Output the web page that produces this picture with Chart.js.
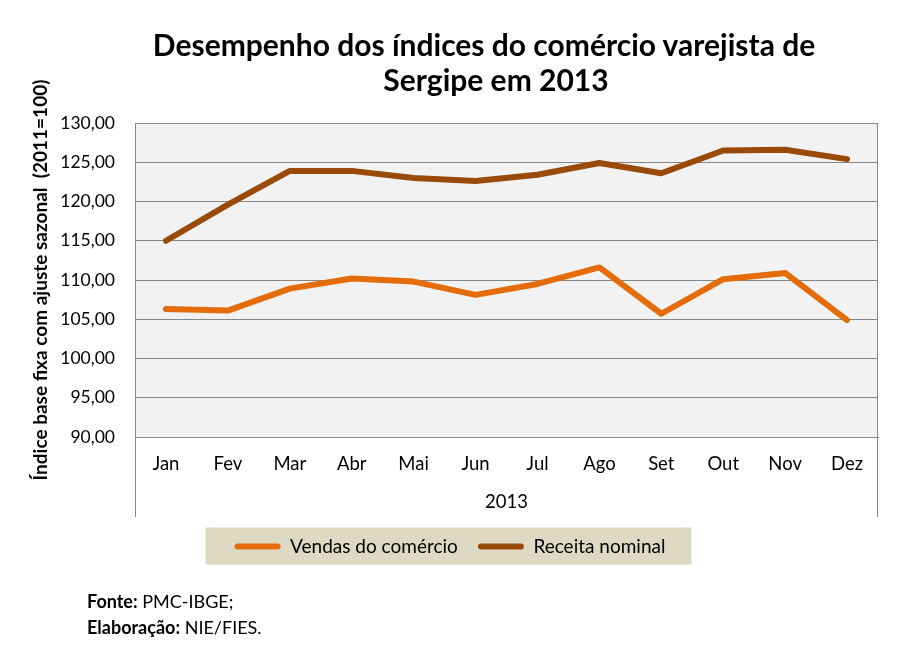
<!DOCTYPE html>
<html>
<head>
<meta charset="utf-8">
<script src="https://cdn.jsdelivr.net/npm/chart.js@4.4.0/dist/chart.umd.min.js"></script>
<style>
  html, body { margin: 0; padding: 0; background: #fff; }
  #wrap { position: relative; width: 900px; height: 650px; overflow: hidden; }
  #c { position: absolute; left: 0; top: 0; }
  .ttl { position: absolute; transform: translateX(-50%); white-space: nowrap; line-height: 36px;
         font-family: Lato, "Open Sans", sans-serif; font-weight: bold; font-size: 30px; color: #000; }
  .foot { position: absolute; left: 87px; font-family: Lato, "Open Sans", sans-serif; font-size: 18px; line-height: 22px; color: #000; white-space: nowrap; }
  .foot b { font-weight: bold; }
</style>
</head>
<body>
<div id="wrap">
  <canvas id="c" width="900" height="650"></canvas>
  <div class="ttl" style="top:26px; left:484px;">Desempenho dos índices do comércio varejista de</div>
  <div class="ttl" style="top:61px; left:496px;">Sergipe em 2013</div>
  <div class="foot" style="top:590px;"><b>Fonte:</b> PMC-IBGE;</div>
  <div class="foot" style="top:616px;"><b>Elaboração:</b> NIE/FIES.</div>
</div>
<script>
const months = ['Jan','Fev','Mar','Abr','Mai','Jun','Jul','Ago','Set','Out','Nov','Dez'];
const vendas = [106.3, 106.1, 108.9, 110.2, 109.8, 108.1, 109.5, 111.6, 105.7, 110.1, 110.9, 104.9];
const receita = [115.0, 119.6, 123.9, 123.9, 123.0, 122.6, 123.4, 124.9, 123.6, 126.5, 126.6, 125.4];
const yTicks = [90, 95, 100, 105, 110, 115, 120, 125, 130];
const xTitle = '2013';
const yTitle = 'Índice base fixa com ajuste sazonal  (2011=100)';

const FONT = 'Lato';
const GRID = '#868686';

const decor = {
  id: 'decor',
  beforeDraw(chart) {
    const {ctx, chartArea: a} = chart;
    ctx.save();
    ctx.fillStyle = '#F2F2F2';
    ctx.fillRect(a.left, a.top, a.right - a.left, a.bottom - a.top);
    // legend background
    const hb = chart.legend.legendHitBoxes;
    if (hb && hb.length) {
      const first = hb[0], last = hb[hb.length - 1];
      const cy = first.top + first.height / 2;
      ctx.fillStyle = '#DDD9C3';
      ctx.fillRect(first.left - 29, cy - 19, (last.left + last.width + 26) - (first.left - 29), 37);
    }
    ctx.restore();
  },
  afterDraw(chart) {
    const {ctx, chartArea: a} = chart;
    const xs = chart.scales.x;
    ctx.save();
    ctx.strokeStyle = GRID;
    ctx.lineWidth = 1;
    ctx.beginPath();
    ctx.moveTo(a.left + 0.5, a.top); ctx.lineTo(a.left + 0.5, xs.bottom);
    ctx.moveTo(a.right - 0.5, a.top); ctx.lineTo(a.right - 0.5, xs.bottom);
    ctx.stroke();
    ctx.restore();
  }
};

new Chart(document.getElementById('c'), {
  type: 'line',
  data: {
    labels: months,
    datasets: [
      { label: 'Vendas do comércio', data: vendas, borderColor: '#E46C0A', backgroundColor: '#E46C0A',
        borderWidth: 6, pointRadius: 0, tension: 0, borderCapStyle: 'round', borderJoinStyle: 'round' },
      { label: 'Receita nominal', data: receita, borderColor: '#9A4A08', backgroundColor: '#9A4A08',
        borderWidth: 6, pointRadius: 0, tension: 0, borderCapStyle: 'round', borderJoinStyle: 'round' }
    ]
  },
  options: {
    responsive: false,
    animation: false,
    devicePixelRatio: 1,
    layout: { padding: { left: 22, right: 22, top: 123, bottom: 84 } },
    plugins: {
      title: { display: false },
      tooltip: { enabled: false },
      legend: {
        position: 'bottom',
        labels: {
          font: { family: FONT, size: 19 },
          color: '#000',
          boxWidth: 46,
          boxHeight: 6,
          padding: 20,
          useBorderRadius: true,
          borderRadius: 3,
          generateLabels(chart) {
            return chart.data.datasets.map((d, i) => ({
              text: d.label, fillStyle: d.borderColor, strokeStyle: d.borderColor,
              lineWidth: 0, hidden: false, datasetIndex: i, fontColor: '#000', borderRadius: 3
            }));
          }
        }
      }
    },
    scales: {
      x: {
        offset: true,
        grid: { display: false, drawTicks: false },
        border: { display: true, color: GRID },
        ticks: { font: { family: FONT, size: 18.5 }, color: '#000', padding: 16, maxRotation: 0 },
        title: { display: true, text: xTitle, font: { family: FONT, size: 18.5 }, color: '#000', padding: { top: 12 } },
        afterFit(s) { s.height = 80; }
      },
      y: {
        min: 90, max: 130,
        afterBuildTicks(s) { s.ticks = yTicks.map(v => ({ value: v })); },
        grid: { color: GRID, drawTicks: false, lineWidth: 1 },
        border: { display: true, color: GRID },
        ticks: {
          font: { family: FONT, size: 17.5 }, color: '#000', padding: 20,
          callback: v => v.toFixed(2).replace('.', ',')
        },
        title: { display: true, text: yTitle, font: { family: FONT, size: 19, weight: 'bold' }, color: '#000', padding: { top: 7, bottom: 0 } },
        afterFit(s) { s.width = 113; }
      }
    }
  },
  plugins: [decor]
});
</script>
</body>
</html>
